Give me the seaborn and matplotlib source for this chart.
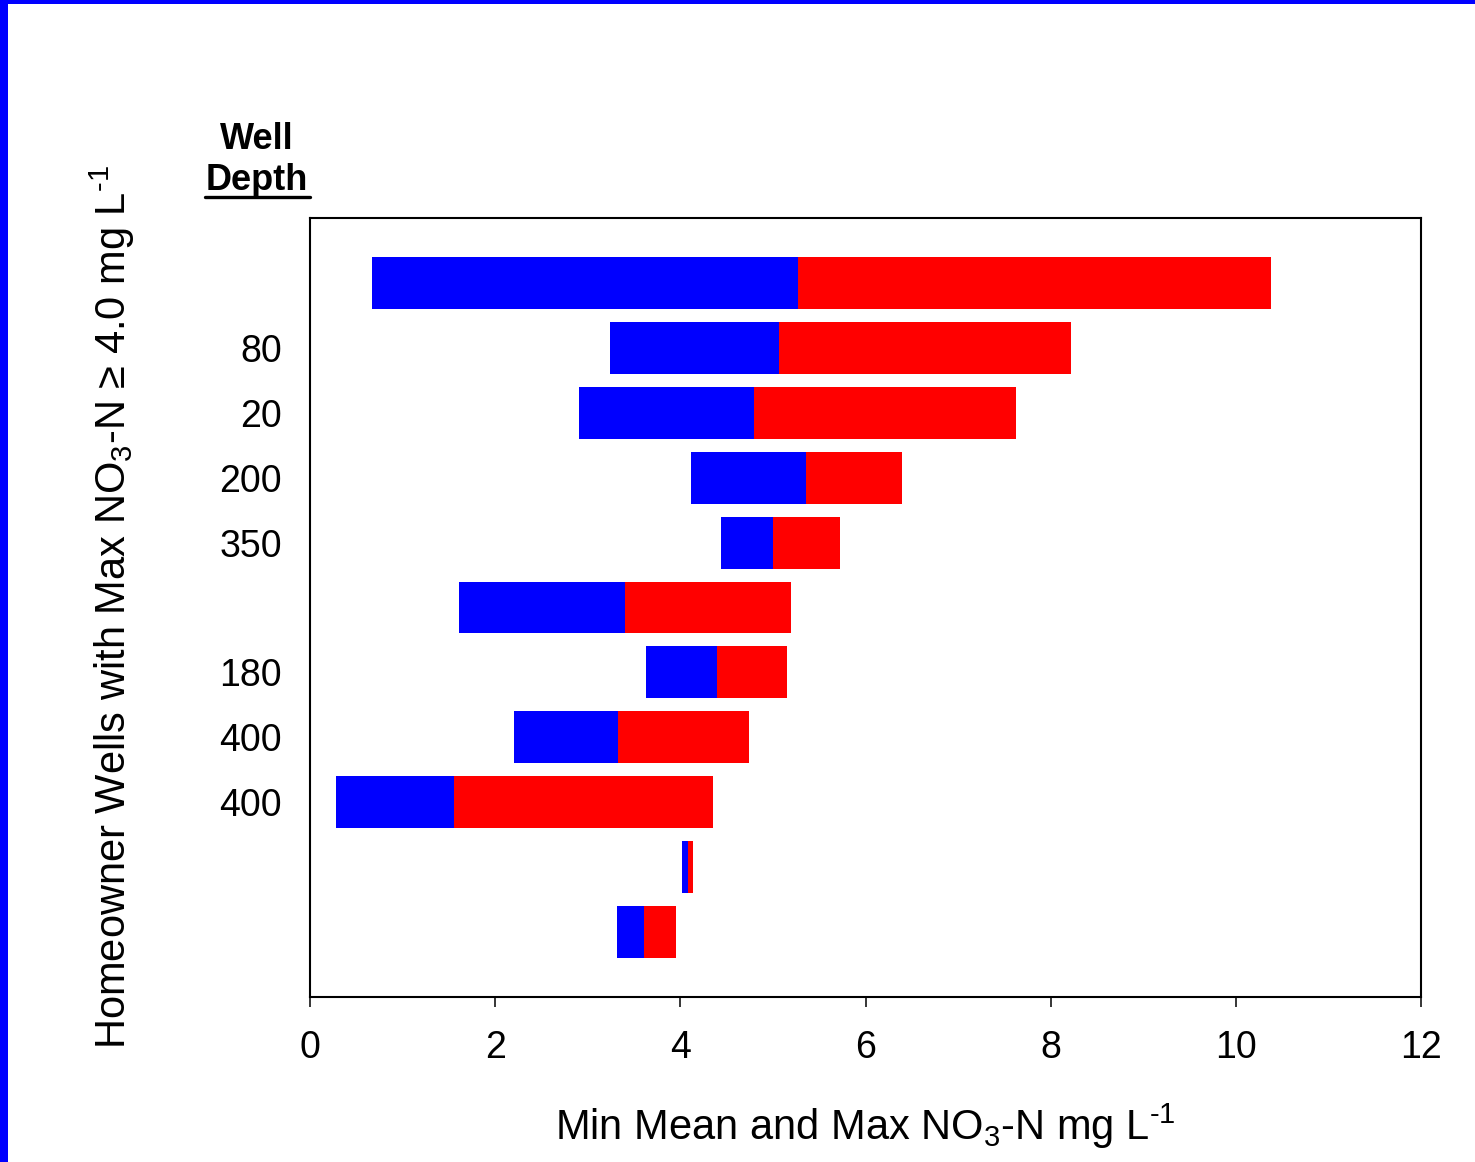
import numpy as np
import seaborn as sns
import matplotlib.pyplot as plt
from matplotlib.lines import Line2D
from matplotlib.patches import Rectangle

# Values (top bar first)
depth_labels = ['', '80', '20', '200', '350', '', '180', '400', '400', '', '']
min_vals = [0.67, 3.24, 2.91, 4.12, 4.44, 1.61, 3.63, 2.20, 0.28, 4.02, 3.32]
mean_vals = [5.27, 5.07, 4.80, 5.36, 5.00, 3.40, 4.40, 3.33, 1.56, 4.08, 3.61]
max_vals = [10.38, 8.22, 7.63, 6.39, 5.72, 5.20, 5.15, 4.74, 4.35, 4.14, 3.95]
x_ticks = [0, 2, 4, 6, 8, 10, 12]

sns.set_theme(style="white")
plt.rcParams['font.family'] = ['Liberation Sans', 'DejaVu Sans']
plt.rcParams['mathtext.fontset'] = 'custom'
plt.rcParams['mathtext.rm'] = 'Liberation Sans'
plt.rcParams['mathtext.default'] = 'regular'
plt.rcParams['text.color'] = 'black'

W, H = 1475, 1162
fig = plt.figure(figsize=(W / 100, H / 100), dpi=100)
ax = fig.add_axes([310 / W, 1 - 997 / H, (1421 - 310) / W, (997 - 218) / H])

pos = np.arange(1, len(min_vals) + 1)
mins = np.array(min_vals)
means = np.array(mean_vals)
maxs = np.array(max_vals)

# floating bars: min -> mean in blue, mean -> max in red
ax.barh(pos, means - mins, left=mins, height=0.8, color='#0000ff', linewidth=0)
ax.barh(pos, maxs - means, left=means, height=0.8, color='#ff0000', linewidth=0)

ax.set_xlim(0, 12)
ax.set_ylim(12, 0)
ax.set_xticks(x_ticks)
ax.set_xticklabels([str(t) for t in x_ticks])
ax.set_yticks(pos)
ax.set_yticklabels(depth_labels)

for s in ax.spines.values():
    s.set_color('black')
    s.set_linewidth(1.5)
ax.tick_params(axis='x', bottom=True, direction='out', length=7.5, width=1.1,
               color='black', labelsize=27, pad=16, labelcolor='black')
ax.tick_params(axis='y', left=False, length=0, labelsize=27, pad=20,
               labelcolor='black')

ax.set_xlabel(r'Min Mean and Max NO$_3$-N mg L$^{\text{-}1}$', fontsize=30,
              color='black', labelpad=26)
ax.set_ylabel(r'Homeowner Wells with Max NO$_3$-N ≥ 4.0 mg L$^{\text{-}1}$',
              fontsize=30, color='black')
ax.yaxis.set_label_coords(-0.156, 0.5)

# column header
fig.text(256.5 / W, 1 - 149 / H, 'Well', fontsize=26, fontweight='bold',
         ha='center', va='baseline', color='black')
fig.text(256.5 / W, 1 - 190 / H, 'Depth', fontsize=26, fontweight='bold',
         ha='center', va='baseline', color='black')
fig.add_artist(Line2D([205 / W, 310 / W], [1 - 196.5 / H, 1 - 196.5 / H],
                      color='black', linewidth=2.4))

# blue slide frame
fig.add_artist(Rectangle((0, 0), 8 / W, 1, color='#0000ff', lw=0))
fig.add_artist(Rectangle((0, 1 - 3.5 / H), 1, 3.5 / H, color='#0000ff', lw=0))

fig.savefig('out.png', dpi=100, facecolor='white')
